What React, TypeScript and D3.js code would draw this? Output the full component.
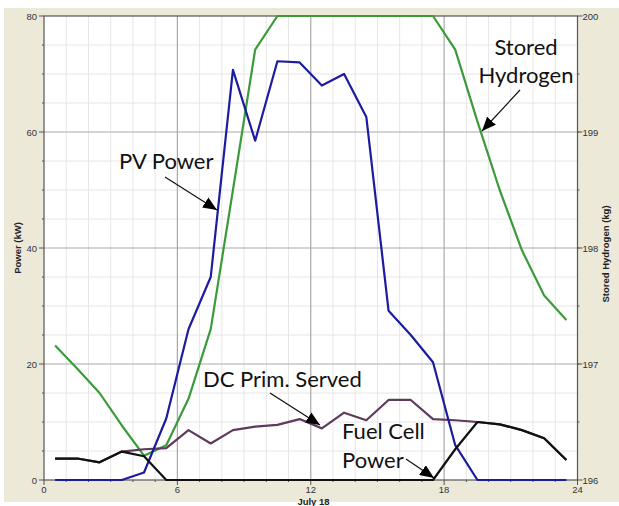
import React from "react";
import * as d3 from "d3";

const hours = [0.5, 1.5, 2.5, 3.5, 4.5, 5.5, 6.5, 7.5, 8.5, 9.5, 10.5, 11.5, 12.5, 13.5, 14.5, 15.5, 16.5, 17.5, 18.5, 19.5, 20.5, 21.5, 22.5, 23.5];
const pvPower = [0, 0, 0, 0, 1.3, 10.6, 26, 35, 70.7, 58.5, 72.2, 72, 68, 70, 62.6, 29.2, 25, 20.3, 6, 0, 0, 0, 0, 0];
const storedH2 = [197.16, 196.96, 196.75, 196.47, 196.21, 196.3, 196.7, 197.3, 198.5, 199.71, 200, 200, 200, 200, 200, 200, 200, 200, 199.71, 199.09, 198.5, 197.98, 197.59, 197.38];
const dcServed = [3.7, 3.7, 3.05, 4.9, 5.3, 5.5, 8.6, 6.3, 8.6, 9.2, 9.5, 10.5, 8.9, 11.6, 10.3, 13.8, 13.8, 10.5, 10.3, 10.0, 9.6, 8.6, 7.2, 3.45];
const fuelCell = [3.7, 3.7, 3.05, 4.9, 4.1, 0, 0, 0, 0, 0, 0, 0, 0, 0, 0, 0, 0, 0, 5.3, 10.0, 9.6, 8.6, 7.2, 3.45];

const xTicks = [0, 6, 12, 18, 24];
const yLeftTicks = [0, 20, 40, 60, 80];
const yRightTicks = [196, 197, 198, 199, 200];

const W = 619, H = 506;
const L = 44, R = 577.5, T = 16, B = 480;

export default function App() {
  const x = d3.scaleLinear().domain([0, 24]).range([L, R]);
  const yL = d3.scaleLinear().domain([0, 80]).range([B, T]);
  const yR = d3.scaleLinear().domain([196, 200]).range([B, T]);

  const lineL = d3.line<number>().x((_, i) => x(hours[i])).y((d) => yL(d));
  const lineR = d3.line<number>().x((_, i) => x(hours[i])).y((d) => yR(d));

  const minorX = d3.range(1, 24).filter((h) => h % 6 !== 0);
  const minorY = d3.range(5, 80, 5).filter((v) => v % 20 !== 0);
  const minorR = d3.range(196.5, 200, 0.5);

  const tickFont = "Arial, 'Liberation Sans', sans-serif";
  const annFont = "Lato, 'Open Sans', sans-serif";

  return (
    <svg width={W} height={H} style={{ position: "absolute", left: 0, top: 0 }}>
      <defs>
        <marker id="arr" viewBox="0 0 14 12" refX="14" refY="6" markerWidth="14" markerHeight="12" markerUnits="userSpaceOnUse" orient="auto">
          <path d="M0,0 L14,6 L0,12 Z" fill="#000" />
        </marker>
      </defs>
      <rect x={0} y={0} width={W} height={H} fill="#ffffff" />
      <rect x={4} y={8} width={W - 4} height={494} fill="#ECE9D8" />
      <rect x={L} y={T} width={R - L} height={B - T} fill="#ffffff" />
      {/* minor grid */}
      {minorX.map((h) => (
        <line key={"mx" + h} x1={x(h)} x2={x(h)} y1={T} y2={B} stroke="#e6e6e6" strokeWidth={1} />
      ))}
      {minorY.map((v) => (
        <line key={"my" + v} x1={L} x2={R} y1={yL(v)} y2={yL(v)} stroke="#e6e6e6" strokeWidth={1} />
      ))}
      {/* major grid */}
      {xTicks.slice(1, -1).map((h) => (
        <line key={"Mx" + h} x1={x(h)} x2={x(h)} y1={T} y2={B} stroke="#a9a9a9" strokeWidth={1.2} />
      ))}
      {yLeftTicks.slice(1, -1).map((v) => (
        <line key={"My" + v} x1={L} x2={R} y1={yL(v)} y2={yL(v)} stroke="#a9a9a9" strokeWidth={1.2} />
      ))}
      {/* frame */}
      <rect x={L} y={T} width={R - L} height={B - T} fill="none" stroke="#555" strokeWidth={1.2} />
      {/* ticks */}
      {yLeftTicks.map((v) => (
        <g key={"lt" + v}>
          <line x1={L - 5} x2={L} y1={yL(v)} y2={yL(v)} stroke="#555" />
          <text x={L - 7} y={yL(v) + 3.5} fontSize={9.5} fontFamily={tickFont} fill="#333" textAnchor="end">{v}</text>
        </g>
      ))}
      {minorY.map((v) => (
        <line key={"lmt" + v} x1={L - 2} x2={L} y1={yL(v)} y2={yL(v)} stroke="#555" />
      ))}
      {yRightTicks.map((v) => (
        <g key={"rt" + v}>
          <line x1={R} x2={R + 5} y1={yR(v)} y2={yR(v)} stroke="#555" />
          <text x={R + 5} y={yR(v) + 3.5} fontSize={9.5} fontFamily={tickFont} fill="#333">{v}</text>
        </g>
      ))}
      {minorR.map((v) => (
        <line key={"rmt" + v} x1={R} x2={R + 2} y1={yR(v)} y2={yR(v)} stroke="#555" />
      ))}
      {xTicks.map((h) => (
        <g key={"xt" + h}>
          <line x1={x(h)} x2={x(h)} y1={B} y2={B + 5} stroke="#555" />
          <text x={x(h)} y={B + 12.5} fontSize={9.5} fontFamily={tickFont} fill="#333" textAnchor="middle">{h}</text>
        </g>
      ))}
      {minorX.map((h) => (
        <line key={"xmt" + h} x1={x(h)} x2={x(h)} y1={B} y2={B + 2} stroke="#555" />
      ))}
      {/* axis titles */}
      <text x={W / 2 + 4} y={504.5} fontSize={9.5} fontWeight="bold" fontFamily={tickFont} fill="#222" textAnchor="middle">July 18</text>
      <text transform={`translate(21,${(T + B) / 2}) rotate(-90)`} fontSize={9.5} fontWeight="bold" fontFamily={tickFont} fill="#222" textAnchor="middle">Power (kW)</text>
      <text transform={`translate(609,${(T + B) / 2 + 6}) rotate(-90)`} fontSize={9.5} fontWeight="bold" fontFamily={tickFont} fill="#222" textAnchor="middle">Stored Hydrogen (kg)</text>
      {/* series */}
      <path d={lineR(storedH2) || ""} fill="none" stroke="#3b9b3b" strokeWidth={2.2} strokeLinejoin="round" />
      <path d={lineL(dcServed) || ""} fill="none" stroke="#5e3a5c" strokeWidth={2.2} strokeLinejoin="round" />
      <path d={lineL(pvPower) || ""} fill="none" stroke="#1c1ca0" strokeWidth={2.2} strokeLinejoin="round" />
      <path d={lineL(fuelCell) || ""} fill="none" stroke="#111" strokeWidth={2.2} strokeLinejoin="round" />
      {/* annotations */}
      <text x={119} y={169} fontSize={22} fontFamily={annFont} fill="#111">PV Power</text>
      <line x1={165} y1={177} x2={217} y2={210} stroke="#111" strokeWidth={1.2} markerEnd="url(#arr)" />
      <text x={526} y={55} fontSize={22} fontFamily={annFont} fill="#111" textAnchor="middle">Stored</text>
      <text x={526} y={83} fontSize={22} fontFamily={annFont} fill="#111" textAnchor="middle">Hydrogen</text>
      <line x1={520} y1={90} x2={482} y2={131} stroke="#111" strokeWidth={1.2} markerEnd="url(#arr)" />
      <text x={203} y={387} fontSize={22} fontFamily={annFont} fill="#111">DC Prim. Served</text>
      <line x1={270} y1={393} x2={320} y2={425} stroke="#111" strokeWidth={1.2} markerEnd="url(#arr)" />
      <text x={342} y={439} fontSize={22} fontFamily={annFont} fill="#111">Fuel Cell</text>
      <text x={342} y={468} fontSize={22} fontFamily={annFont} fill="#111">Power</text>
      <line x1={406} y1={459} x2={434} y2={478} stroke="#111" strokeWidth={1.2} markerEnd="url(#arr)" />
    </svg>
  );
}
